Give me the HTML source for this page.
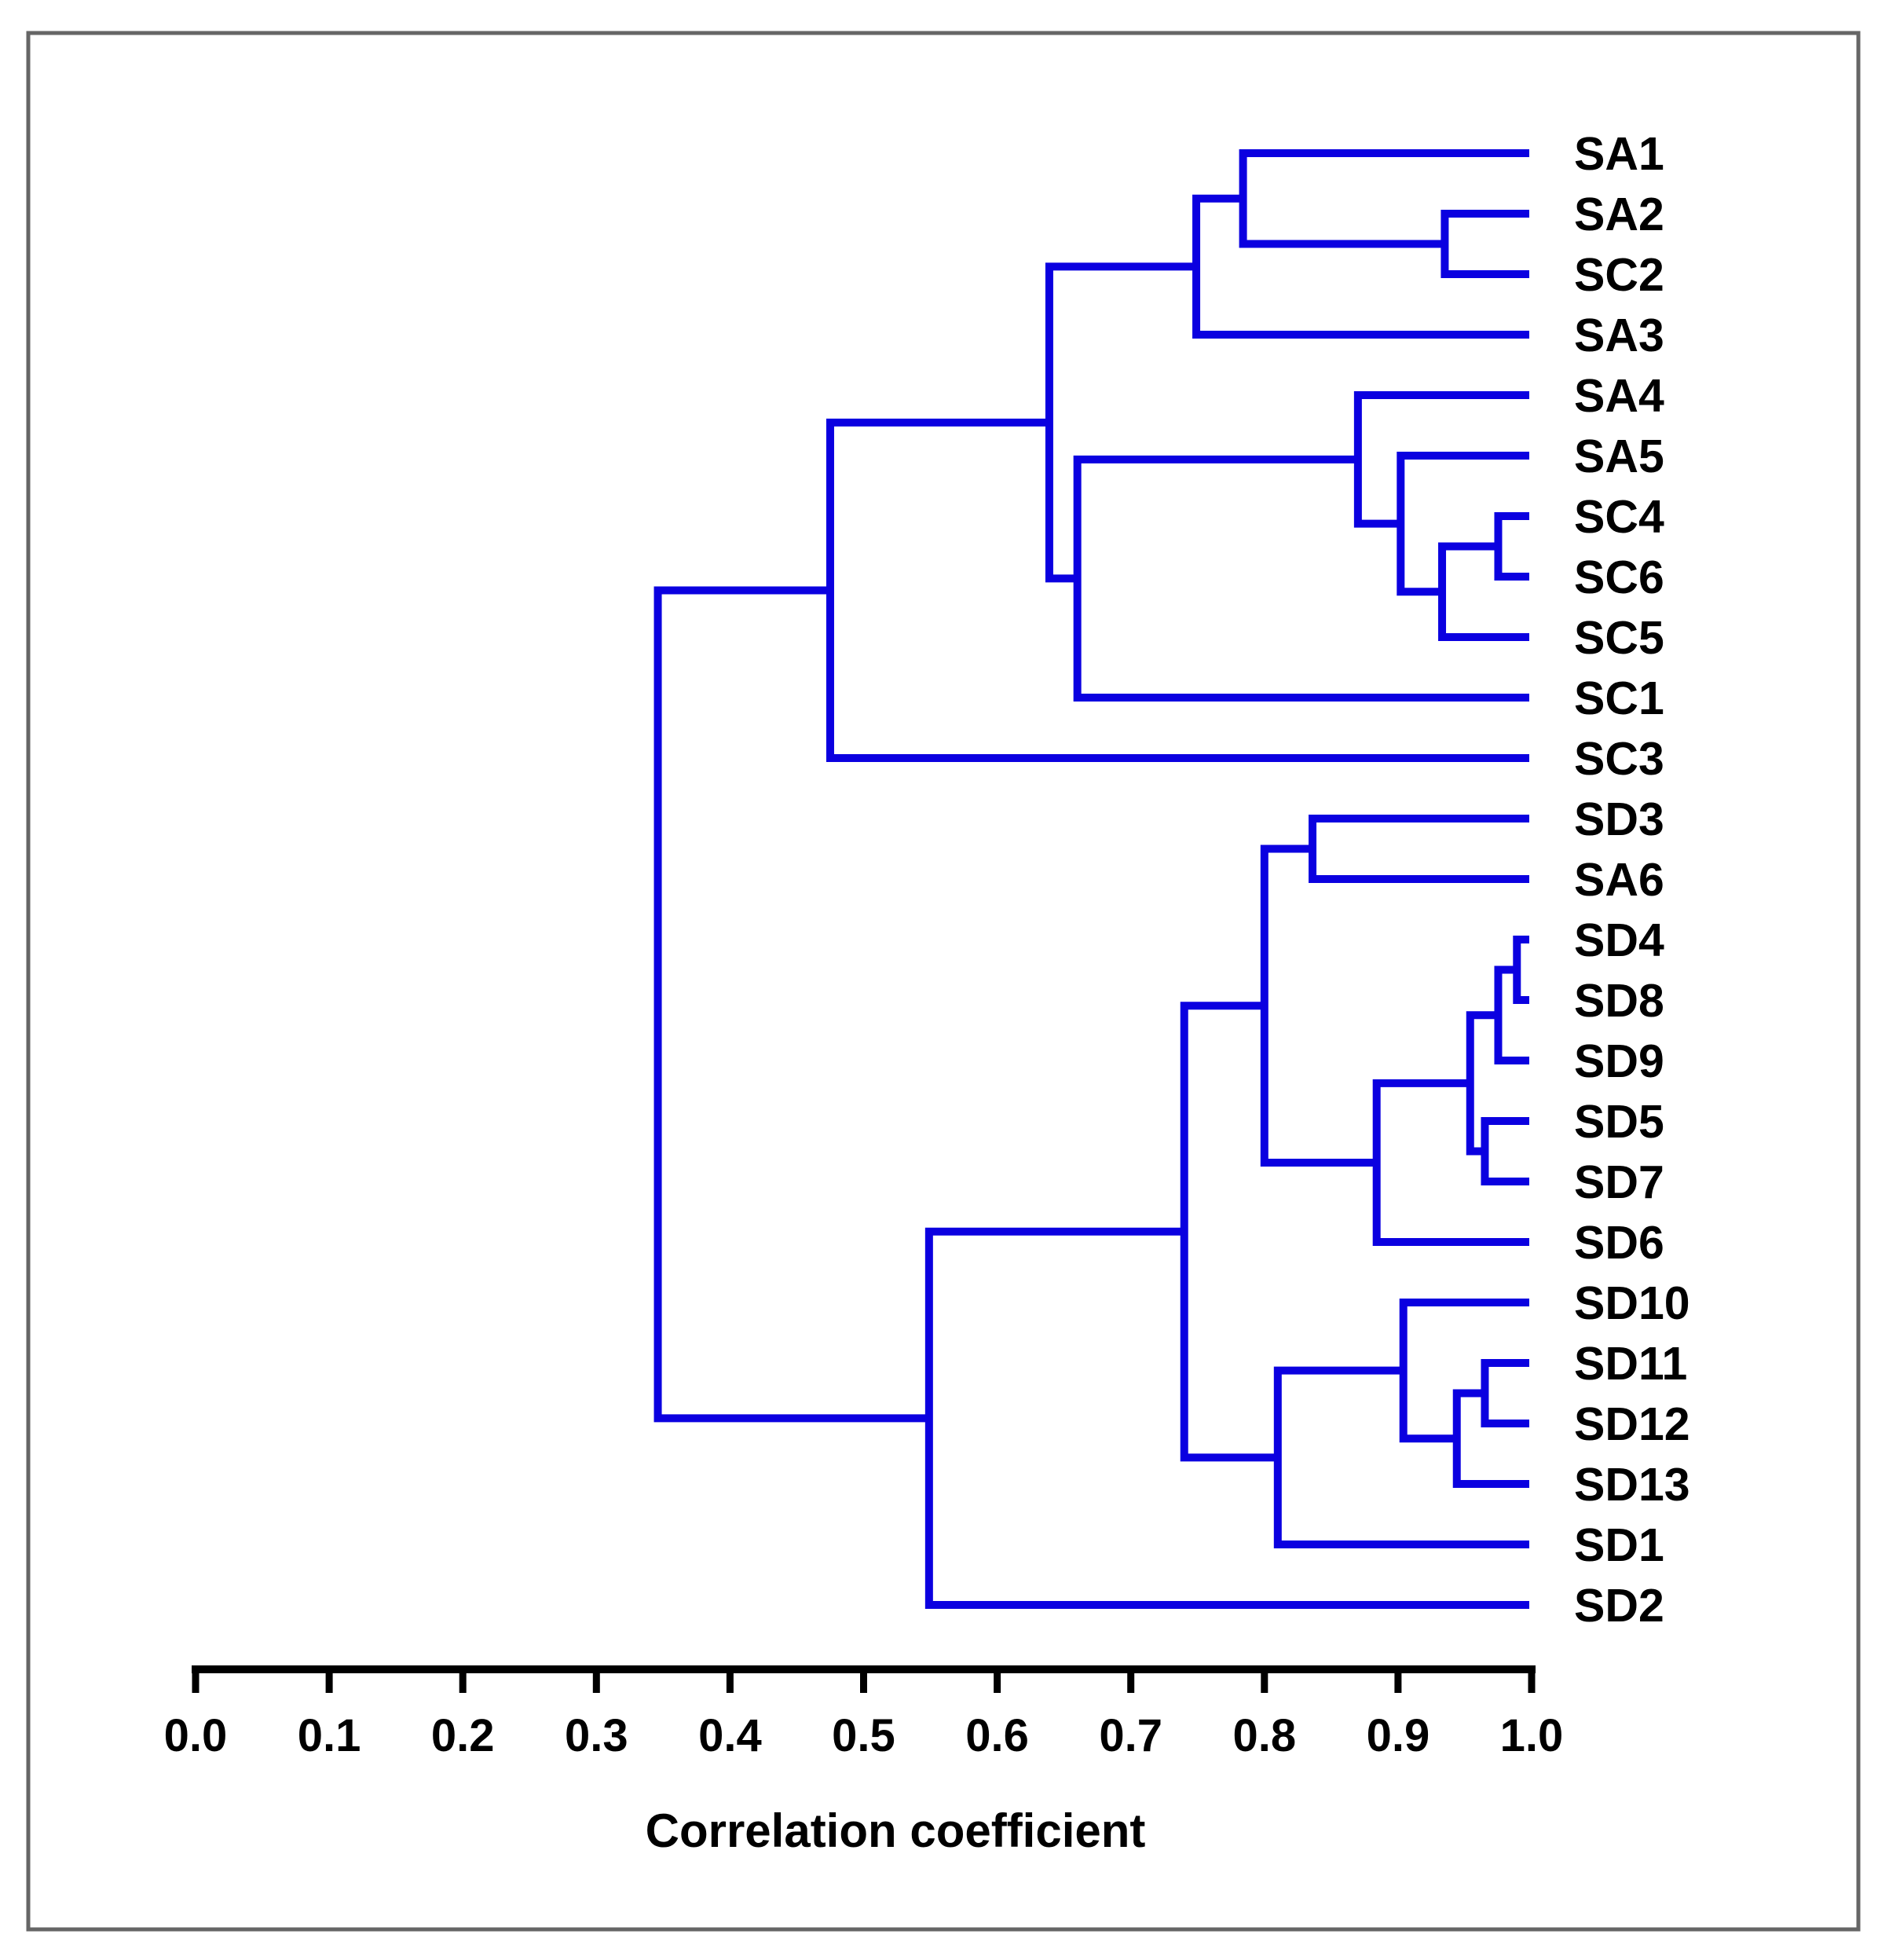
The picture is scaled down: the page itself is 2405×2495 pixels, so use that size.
<!DOCTYPE html>
<html><head><meta charset="utf-8"><style>
html,body{margin:0;padding:0;background:#fff;}
svg{display:block;}
text{font-family:"Liberation Sans",Arial,sans-serif;font-weight:bold;fill:#000;}
</style></head><body>
<svg id="chart" width="2405" height="2495" viewBox="0 0 2405 2495" xmlns="http://www.w3.org/2000/svg">
<rect x="36" y="42" width="2330" height="2414" fill="none" stroke="#666" stroke-width="5"/>
<g id="tree"></g>
<g id="axis"></g>
<text x="1140" y="2351" font-size="60" text-anchor="middle">Correlation coefficient</text>
</svg>
<script>
const leaves = ["SA1","SA2","SC2","SA3","SA4","SA5","SC4","SC6","SC5","SC1","SC3","SD3","SA6","SD4","SD8","SD9","SD5","SD7","SD6","SD10","SD11","SD12","SD13","SD1","SD2"];
// merges: [childA, childB, correlation]; children are leaf names or merge indices (m#)
const mergeA = ["SA2","SA1","m1","SC4","m3","SA5","SA4","m6","m2","m8","SD4","m10","SD5","m11","m13","SD3","m15","SD11","m17","SD10","m19","m16","m21","m9"];
const mergeB = ["SC2","m0","SA3","SC6","SC5","m4","m5","SC1","m7","SC3","SD8","SD9","SD7","m12","SD6","SA6","m14","SD12","SD13","m18","SD1","m20","SD2","m22"];
const mergeCorr = [0.935,0.784,0.749,0.975,0.933,0.902,0.870,0.660,0.639,0.475,0.989,0.975,0.965,0.954,0.884,0.836,0.800,0.965,0.944,0.904,0.810,0.740,0.549,0.346];
const tickLabels = ["0.0","0.1","0.2","0.3","0.4","0.5","0.6","0.7","0.8","0.9","1.0"];

const NS="http://www.w3.org/2000/svg";
const X0=249, X1=1950, Y0=195, Y1=2043;
const xs = v => X0 + v*(X1-X0);
const ys = i => Y0 + i*(Y1-Y0)/(leaves.length-1);
const tree=document.getElementById('tree'), axis=document.getElementById('axis');
function mk(tag, attrs, parent){const e=document.createElementNS(NS,tag);for(const k in attrs)e.setAttribute(k,attrs[k]);parent.appendChild(e);return e;}
const COLOR="#0b00e0", SW=10;
const pos={};
leaves.forEach((n,i)=>{pos[n]={x:xs(1)-3,y:ys(i)};});
leaves.forEach((n,i)=>{
  const t=mk('text',{x:2004,y:ys(i)+21,'font-size':59},tree);
  t.textContent=n;
  
  
});
mergeCorr.forEach((c,i)=>{
  const a=pos[mergeA[i]], b=pos[mergeB[i]], x=xs(c);
  const p=mk('path',{d:`M${a.x},${a.y}H${x}V${b.y}H${b.x}`,fill:'none',stroke:COLOR,'stroke-width':SW,'stroke-linejoin':'miter','stroke-linecap':'butt'},tree);
  
  
  pos['m'+i]={x:x,y:(a.y+b.y)/2};
});
// axis
const ax=mk('line',{x1:X0-5,x2:X1+5,y1:2125,y2:2125,stroke:'#000','stroke-width':10},axis);


tickLabels.forEach((l,i)=>{
  const v=parseFloat(l), x=xs(v);
  const tk=mk('line',{x1:x,x2:x,y1:2125,y2:2155,stroke:'#000','stroke-width':9},axis);
  
  
  const t=mk('text',{x:x,y:2229,'font-size':58,'text-anchor':'middle'},axis);
  t.textContent=l;
  
  
});
</script>
</body></html>
